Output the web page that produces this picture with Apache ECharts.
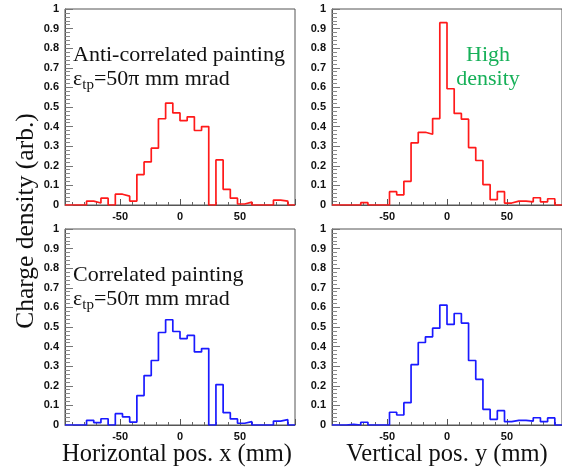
<!DOCTYPE html>
<html><head><meta charset="utf-8">
<script src="https://cdn.jsdelivr.net/npm/echarts@6/dist/echarts.min.js"></script>
<style>html,body{margin:0;padding:0;background:#fff}#c{width:562px;height:469px}</style>
</head><body><div id="c"></div>
<script>
// bin left edges (mm), bin width 6 mm, last edge 96
const binLeft = [-96,-90,-84,-78,-72,-66,-60,-54,-48,-42,-36,-30,-24,-18,-12,-6,0,6,12,18,24,30,36,42,48,54,60,66,72,78,84,90];
const binEndEdge = 96;
const antiX = [0,0,0,0.02,0.01,0.035,0,0.055,0.045,0.02,0.155,0.22,0.29,0.44,0.52,0.47,0.43,0.45,0.38,0.40,0,0.23,0.08,0.035,0.005,0.015,0,0,0,0.025,0.02,0];
const antiY = [0,0,0,0,0.012,0,0,0,0.068,0.052,0.121,0.317,0.371,0.361,0.441,0.93,0.593,0.467,0.438,0.293,0.227,0.104,0.027,0.068,0.01,0.02,0.02,0.016,0.037,0.016,0.032,0];
const corrX = [0,0,0,0.024,0.012,0.032,0,0.058,0.041,0.015,0.15,0.252,0.329,0.472,0.537,0.477,0.441,0.457,0.373,0.39,0,0.206,0.063,0.031,0.009,0.017,0,0,0,0.02,0.027,0];
const corrY = [0,0,0.003,0,0.014,0,0,0,0.065,0.051,0.114,0.308,0.421,0.45,0.494,0.612,0.513,0.569,0.52,0.329,0.233,0.08,0.029,0.073,0.017,0.024,0.024,0.02,0.037,0.017,0.036,0];
const xTickLabels = [-50, 0, 50];
const yTitle = 'Charge density (arb.)';
const xTitles = ['Horizontal pos. x (mm)', 'Vertical pos. y (mm)'];

function stepData(vals){
  const d = binLeft.map((e,i)=>[e, vals[i]]);
  d.push([binEndEdge, vals[vals.length-1]]);
  return d;
}
const grids = [
  {left:65, top:9, width:230, height:196},
  {left:332, top:9, width:230, height:196},
  {left:65, top:229, width:230, height:196},
  {left:332, top:229, width:230, height:196}
];
const panels = [antiX, antiY, corrX, corrY];
const colors = ['#ff1a1a','#ff1a1a','#1a1aff','#1a1aff'];
const axisCol = '#555';
const labFont = {fontFamily:'Liberation Sans', fontWeight:'bold', fontSize:11, color:'#111'};
const serif = 'Liberation Serif';
const epsRich = {e:{fontSize:22, fontFamily:serif, lineHeight:27, verticalAlign:'middle'}, s:{fontSize:15, fontFamily:serif, verticalAlign:'bottom', lineHeight:27}};
const option = {
  animation:false,
  grid: grids.map(g=>Object.assign({show:true, borderColor:axisCol, borderWidth:1, backgroundColor:'transparent', z:0}, g)),
  xAxis: grids.map((g,i)=>({
    type:'value', gridIndex:i, min:-96, max:96, splitNumber:4, z:3,
    axisLine:{show:true, onZero:false, lineStyle:{color:axisCol, width:1}},
    axisTick:{show:true, inside:true, length:6, lineStyle:{color:'#555', width:1}},
    minorTick:{show:true, splitNumber:5, length:3, lineStyle:{color:'#666', width:1}},
    splitLine:{show:false},
    axisLabel:Object.assign({margin:6, showMinLabel:false, showMaxLabel:false,
      formatter:v=> xTickLabels.indexOf(v)>=0 ? String(v) : ''}, labFont)
  })),
  yAxis: grids.map((g,i)=>({
    type:'value', gridIndex:i, min:0, max:1, interval:0.1, position:'left', z:3,
    axisLine:{show:true, onZero:false, lineStyle:{color:axisCol, width:1}},
    axisTick:{show:true, inside:true, length:8, lineStyle:{color:'#777', width:1}},
    minorTick:{show:true, splitNumber:5, length:5, lineStyle:{color:'#888', width:1}},
    splitLine:{show:false},
    axisLabel:Object.assign({margin:6, formatter:v=>String(+v.toFixed(1))}, labFont)
  })),
  series: panels.map((p,i)=>({
    type:'line', xAxisIndex:i, yAxisIndex:i, step:'end', symbol:'none',
    data: stepData(p), lineStyle:{color:colors[i], width:1.7}, z:5
  })),
  graphic: [
    {type:'text', x:73, y:55, style:{text:'Anti-correlated painting', fontFamily:serif, fontSize:22, fill:'#111', verticalAlign:'middle'}},
    {type:'text', x:73, y:79, style:{text:'{e|ε}{s|tp}{e|=50π mm mrad}', fontFamily:serif, fill:'#111', verticalAlign:'middle', rich:epsRich}},
    {type:'text', x:73, y:275, style:{text:'Correlated painting', fontFamily:serif, fontSize:22, fill:'#111', verticalAlign:'middle'}},
    {type:'text', x:73, y:299, style:{text:'{e|ε}{s|tp}{e|=50π mm mrad}', fontFamily:serif, fill:'#111', verticalAlign:'middle', rich:epsRich}},
    {type:'text', x:488, y:55, style:{text:'High', fontFamily:serif, fontSize:22, fill:'#16b058', align:'center', verticalAlign:'middle'}},
    {type:'text', x:488, y:79, style:{text:'density', fontFamily:serif, fontSize:22, fill:'#16b058', align:'center', verticalAlign:'middle'}},
    {type:'text', x:26, y:221, rotation:Math.PI/2, style:{text:yTitle, fontFamily:serif, fontSize:25.5, fill:'#111', align:'center', verticalAlign:'middle'}},
    {type:'text', x:177, y:455, style:{text:xTitles[0], fontFamily:serif, fontSize:24.5, fill:'#111', align:'center', verticalAlign:'middle'}},
    {type:'text', x:447, y:455, style:{text:xTitles[1], fontFamily:serif, fontSize:24.5, fill:'#111', align:'center', verticalAlign:'middle'}}
  ]
};
const chart = echarts.init(document.getElementById('c'), null, {renderer:'canvas'});
chart.setOption(option);
</script></body></html>
